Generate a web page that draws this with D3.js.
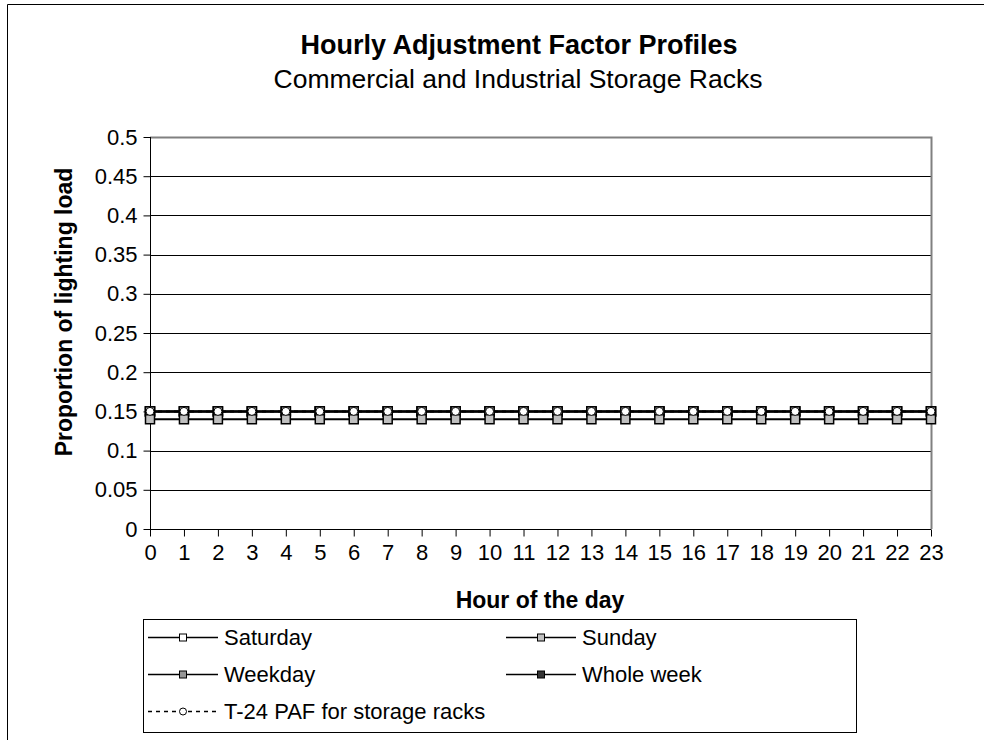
<!DOCTYPE html>
<html><head><meta charset="utf-8">
<script src="https://cdn.jsdelivr.net/npm/d3@7"></script>
<style>body{margin:0;background:#fff;}svg{display:block;font-family:"Liberation Sans",Arial,sans-serif;}</style>
</head><body>
<script>
const hours = d3.range(0, 24).map(String);
const saturday = [0.15,0.15,0.15,0.15,0.15,0.15,0.15,0.15,0.15,0.15,0.15,0.15,0.15,0.15,0.15,0.15,0.15,0.15,0.15,0.15,0.15,0.15,0.15,0.15];
const sunday   = [0.14,0.14,0.14,0.14,0.14,0.14,0.14,0.14,0.14,0.14,0.14,0.14,0.14,0.14,0.14,0.14,0.14,0.14,0.14,0.14,0.14,0.14,0.14,0.14];
const weekday  = [0.15,0.15,0.15,0.15,0.15,0.15,0.15,0.15,0.15,0.15,0.15,0.15,0.15,0.15,0.15,0.15,0.15,0.15,0.15,0.15,0.15,0.15,0.15,0.15];
const wholeWeek= [0.15,0.15,0.15,0.15,0.15,0.15,0.15,0.15,0.15,0.15,0.15,0.15,0.15,0.15,0.15,0.15,0.15,0.15,0.15,0.15,0.15,0.15,0.15,0.15];
const t24      = [0.15,0.15,0.15,0.15,0.15,0.15,0.15,0.15,0.15,0.15,0.15,0.15,0.15,0.15,0.15,0.15,0.15,0.15,0.15,0.15,0.15,0.15,0.15,0.15];
const yTicks = [0,0.05,0.1,0.15,0.2,0.25,0.3,0.35,0.4,0.45,0.5];

const series = [
  {name:"Saturday", values:saturday, fill:"#ffffff", marker:"square", dash:null},
  {name:"Sunday", values:sunday, fill:"#c0c0c0", marker:"square", dash:null},
  {name:"Weekday", values:weekday, fill:"#969696", marker:"square", dash:null},
  {name:"Whole week", values:wholeWeek, fill:"#333333", marker:"square", dash:null},
  {name:"T-24 PAF for storage racks", values:t24, fill:"#ffffff", marker:"circle", dash:"4,4"}
];
const drawOrder = [3,2,0,1,4];

const W = 984, H = 740;
const FONT = "Liberation Sans, Arial, sans-serif";
const svg = d3.select("body").append("svg").attr("width", W).attr("height", H);
svg.append("rect").attr("x",0).attr("y",0).attr("width",W).attr("height",H).attr("fill","#fff");
svg.append("path").attr("d","M7.5,742 L7.5,4.5 L990,4.5").attr("fill","none").attr("stroke","#000").attr("stroke-width",1);

const L = 150, R = 931, T = 137, B = 529;
const x = d3.scalePoint().domain(hours).range([L, R]).padding(0);
const y = d3.scaleLinear().domain([0, 0.5]).range([B, T]);

svg.append("g").selectAll("line").data(yTicks.filter(d => d > 0 && d < 0.5)).join("line")
  .attr("x1", L).attr("x2", R).attr("y1", d => Math.round(y(d)) + 0.5).attr("y2", d => Math.round(y(d)) + 0.5)
  .attr("stroke", "#000").attr("stroke-width", 1);
svg.append("path").attr("d", `M${L},${T+0.5} L${R+0.5},${T+0.5} L${R+0.5},${B}`)
  .attr("fill","none").attr("stroke","#808080").attr("stroke-width",2);

const yAxis = d3.axisLeft(y).tickValues(yTicks).tickSize(7).tickPadding(6).tickFormat(d => String(d));
const gy = svg.append("g").attr("transform", `translate(${L+0.5},0)`).call(yAxis);
gy.select(".domain").attr("stroke","#000").attr("d", `M0,${T} V${B+7}`);
gy.selectAll(".tick line").attr("stroke","#000");
gy.selectAll(".tick text").attr("font-size", 22).attr("fill","#000").attr("font-family",FONT);

const xAxis = d3.axisBottom(x).tickSize(7).tickPadding(8);
const gx = svg.append("g").attr("transform", `translate(0,${B+0.5})`).call(xAxis);
gx.select(".domain").attr("stroke","#000").attr("d", `M${L},0 H${R}`);
gx.selectAll(".tick line").attr("stroke","#000");
gx.selectAll(".tick text").attr("font-size", 22).attr("fill","#000").attr("font-family",FONT);

const line = d3.line().x((d,i) => x(hours[i])).y(d => y(d));
drawOrder.forEach(si => {
  const s = series[si];
  svg.append("path").datum(s.values).attr("d", line).attr("fill","none")
    .attr("stroke","#000").attr("stroke-width", 2).attr("stroke-dasharray", s.dash);
});
drawOrder.forEach(si => {
  const s = series[si];
  const g = svg.append("g");
  if (s.marker === "square") {
    g.selectAll("rect").data(s.values).join("rect")
      .attr("x", (d,i) => x(hours[i]) - 4.5).attr("y", d => y(d) - 4.5)
      .attr("width", 9).attr("height", 9)
      .attr("fill", s.fill).attr("stroke","#000").attr("stroke-width",1.5);
  } else {
    g.selectAll("circle").data(s.values).join("circle")
      .attr("cx", (d,i) => x(hours[i])).attr("cy", d => y(d)).attr("r", 4)
      .attr("fill", s.fill).attr("stroke","#000").attr("stroke-width",1);
  }
});

svg.append("text").attr("x", 519).attr("y", 54).attr("text-anchor","middle")
  .attr("font-size", 27).attr("font-weight","bold").text("Hourly Adjustment Factor Profiles");
svg.append("text").attr("x", 518).attr("y", 88).attr("text-anchor","middle")
  .attr("font-size", 26.5).text("Commercial and Industrial Storage Racks");
svg.append("text").attr("x", 540).attr("y", 608).attr("text-anchor","middle")
  .attr("font-size", 23).attr("font-weight","bold").text("Hour of the day");
svg.append("text").attr("transform","translate(72,312) rotate(-90)").attr("text-anchor","middle")
  .attr("font-size", 23).attr("font-weight","bold").text("Proportion of lighting load");

const lg = svg.append("g");
lg.append("rect").attr("x", 143.5).attr("y", 619.5).attr("width", 713).attr("height", 113)
  .attr("fill","#fff").attr("stroke","#000").attr("stroke-width",1);
const legPos = [[148,637],[506,637],[148,674],[506,674],[148,711]];
series.forEach((s, i) => {
  const [lx, ly] = legPos[i];
  lg.append("line").attr("x1", lx).attr("x2", lx + 70).attr("y1", ly + 0.5).attr("y2", ly + 0.5)
    .attr("stroke","#000").attr("stroke-width",1.5).attr("stroke-dasharray", s.dash ? "4,4" : null);
  if (s.marker === "square") {
    lg.append("rect").attr("x", lx + 35 - 3.5).attr("y", ly - 3).attr("width", 7).attr("height", 7)
      .attr("fill", s.fill).attr("stroke","#000").attr("stroke-width",1);
  } else {
    lg.append("circle").attr("cx", lx + 35).attr("cy", ly + 0.5).attr("r", 3.5)
      .attr("fill", s.fill).attr("stroke","#000").attr("stroke-width",1);
  }
  lg.append("text").attr("x", lx + 76).attr("y", ly + 8).attr("font-size", 22).text(s.name);
});
</script>
</body></html>
